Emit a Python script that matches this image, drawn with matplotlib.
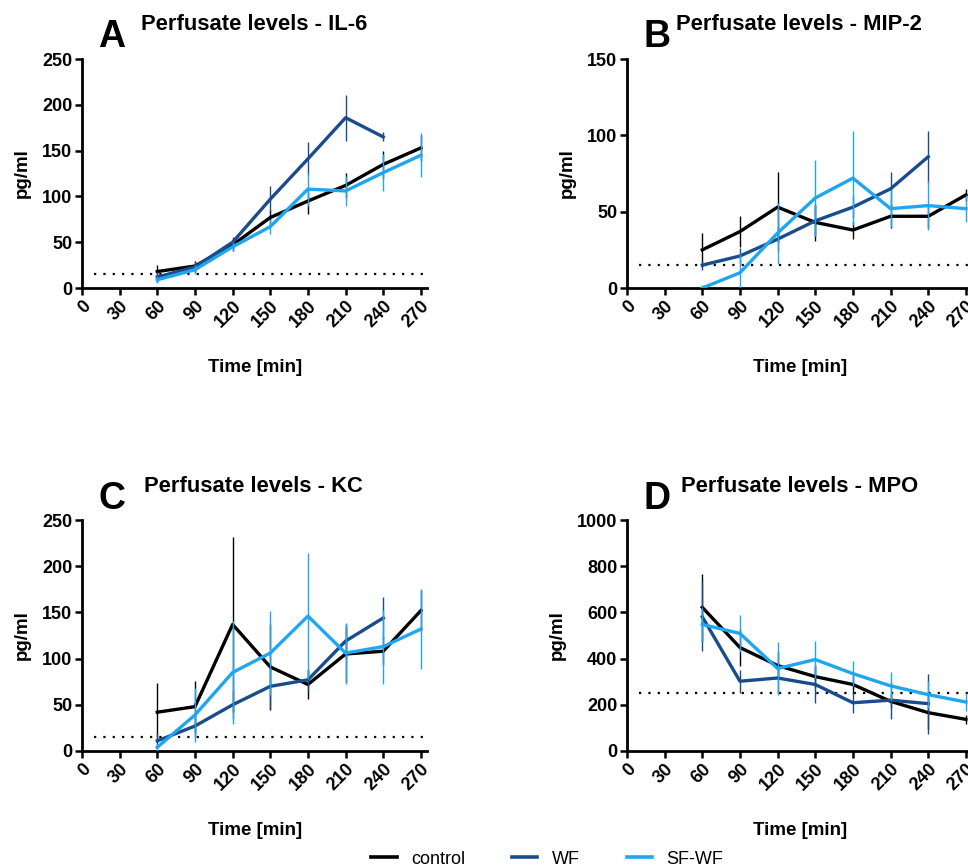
import matplotlib.pyplot as plt
from matplotlib.lines import Line2D

plt.rcParams['font.family'] = ['Liberation Sans', 'DejaVu Sans']

times = [60, 90, 120, 150, 180, 210, 240, 270]
xticks = [0, 30, 60, 90, 120, 150, 180, 210, 240, 270]
groups = ['control', 'WF', 'SF-WF']
colors = ['#000000', '#1a4c8c', '#1ea6f0']

# IL-6
il6_mean = [
	[18, 24, 47, 77, 95, 112, 135, 153],
	[12, 23, 50, 97, 141, 186, 165, None],
	[9, 20, 45, 67, 108, 106, 126, 145],
]
il6_err = [
	[7, 6, 7, 8, 14, 14, 15, 14],
	[5, 6, 6, 14, 18, 25, 5, None],
	[4, 5, 5, 8, 18, 16, 20, 24],
]
# MIP-2
mip2_mean = [
	[25, 37, 53, 43, 38, 47, 47, 61],
	[15, 21, 32, 44, 53, 65, 86, None],
	[0, 10, 36, 59, 72, 52, 54, 52],
]
mip2_err = [
	[11, 10, 23, 12, 6, 8, 8, 4],
	[3, 5, 8, 10, 7, 11, 17, None],
	[2, 12, 20, 25, 31, 12, 16, 9],
]
# KC
kc_mean = [
	[42, 48, 137, 91, 72, 105, 108, 152],
	[11, 27, 50, 70, 77, 119, 144, None],
	[4, 39, 85, 106, 146, 106, 113, 132],
]
kc_err = [
	[32, 28, 95, 47, 16, 30, 15, 22],
	[8, 12, 15, 25, 12, 18, 23, None],
	[4, 29, 56, 45, 68, 33, 40, 43],
]
# MPO
mpo_mean = [
	[622, 448, 370, 322, 288, 215, 166, 137],
	[581, 302, 316, 288, 209, 220, 205, None],
	[548, 509, 357, 396, 335, 282, 244, 212],
]
mpo_err = [
	[146, 80, 60, 50, 40, 30, 70, 20],
	[150, 50, 70, 80, 45, 80, 130, None],
	[70, 80, 115, 80, 55, 60, 60, 40],
]

panels = [
	('A', 'Perfusate levels - IL-6', il6_mean, il6_err, 250, [0, 50, 100, 150, 200, 250], 15),
	('B', 'Perfusate levels - MIP-2', mip2_mean, mip2_err, 150, [0, 50, 100, 150], 15),
	('C', 'Perfusate levels - KC', kc_mean, kc_err, 250, [0, 50, 100, 150, 200, 250], 15),
	('D', 'Perfusate levels - MPO', mpo_mean, mpo_err, 1000, [0, 200, 400, 600, 800, 1000], 250),
]
# axes rectangles in figure fraction
rects = [
	[0.0847, 0.6674, 0.3566, 0.2644],
	[0.6477, 0.6674, 0.3566, 0.2644],
	[0.0847, 0.1328, 0.3566, 0.2667],
	[0.6477, 0.1328, 0.3566, 0.2667],
]
# letter / title positions in pixels from top-left
letter_pos = [(98, 37), (643, 37), (98, 499), (643, 499)]
title_pos = [(141, 25), (676, 25), (144, 486), (681, 486)]

fig = plt.figure(figsize=(9.68, 8.66), dpi=100)
W, H = 968.0, 866.0

for i, (letter, title, means, errs, ymax, yticks, thr) in enumerate(panels):
	ax = fig.add_axes(rects[i])
	ax.axhline(thr, xmin=0.035, xmax=1.0, color='black', linestyle=(0, (1, 3.2)), linewidth=1.6, zorder=1)
	for g in range(3):
		xs = []; ys = []; es = []
		for t, m, e in zip(times, means[g], errs[g]):
			if m is not None:
				xs.append(t); ys.append(m); es.append(e)
		ax.errorbar(xs, ys, yerr=es, color=colors[g], linewidth=2.4, elinewidth=1.0,
			capsize=0, ecolor=colors[g], zorder=3 + g)
	ax.set_xlim(0, 275)
	ax.set_ylim(0, ymax)
	ax.set_xticks(xticks)
	ax.set_yticks(yticks)
	ax.set_xticklabels([str(x) for x in xticks], rotation=45, ha='right', va='top',
		rotation_mode='anchor', fontsize=13, fontweight='bold')
	ax.set_yticklabels([str(y) for y in yticks], fontsize=13, fontweight='bold')
	ax.spines['top'].set_visible(False)
	ax.spines['right'].set_visible(False)
	ax.spines['left'].set_linewidth(2)
	ax.spines['bottom'].set_linewidth(2)
	ax.tick_params(direction='out', length=5, width=1.8, pad=2)
	ax.set_xlabel('Time [min]', fontsize=13.5, fontweight='bold', labelpad=20)
	ax.set_ylabel('pg/ml', fontsize=13.5, fontweight='bold', labelpad=8)
	lx, ly = letter_pos[i]
	fig.text(lx / W, 1 - ly / H, letter, fontsize=27, fontweight='bold', ha='left', va='center')
	tx, ty = title_pos[i]
	fig.text(tx / W, 1 - ty / H, title, fontsize=15.8, fontweight='bold', ha='left', va='center')

handles = [Line2D([0], [0], color=c, linewidth=2.6) for c in colors]
fig.legend(handles, groups, loc='center left', bbox_to_anchor=(355 / W, 1 - 859 / H), ncol=3,
	frameon=False, fontsize=13, handlelength=1.4, columnspacing=2.6, handletextpad=0.8)

fig.savefig('out.png', dpi=100)
